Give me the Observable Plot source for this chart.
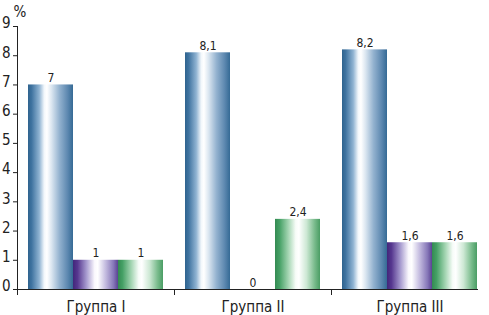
<!DOCTYPE html>
<html><head><meta charset="utf-8">
<script src="https://cdn.jsdelivr.net/npm/d3@7"></script>
<script src="https://cdn.jsdelivr.net/npm/@observablehq/plot@0.6"></script>
<style>body{margin:0;background:#fff} #chart{width:489px;height:315px}</style>
</head><body><div id="chart"></div>
<script>
const groups = ["Группа I", "Группа II", "Группа III"];
const seriesNames = ["s1", "s2", "s3"];
const series1 = [7, 8.1, 8.2];
const series2 = [1, 0, 1.6];
const series3 = [1, 2.4, 1.6];
const yTicks = [0, 1, 2, 3, 4, 5, 6, 7, 8, 9];
const yUnit = "%";

const seriesValues = [series1, series2, series3];
const data = [];
groups.forEach((g, i) => seriesValues.forEach((arr, j) =>
  data.push({group: g, series: seriesNames[j], value: arr[i]})));

const fmt = v => String(v).replace(".", ",");
const font = "'Liberation Sans Narrow','DejaVu Sans Condensed','Roboto Condensed',sans-serif";

const plot = Plot.plot({
  width: 489, height: 315,
  marginLeft: 16, marginRight: 0, marginTop: 26, marginBottom: 26,
  style: {fontFamily: font, fontSize: "15px", color: "#222", background: "#fff", overflow: "visible"},
  fx: {domain: groups, padding: 0, label: null, axis: "bottom", tickSize: 0, tickPadding: 12},
  x: {domain: seriesNames, axis: null, paddingInner: 0, paddingOuter: 0.24},
  y: {domain: [0, 9], ticks: yTicks, tickSize: 4, tickPadding: 3, line: true, label: null, tickFormat: d => d},
  marks: [
    ...seriesNames.map(s => Plot.barY(data.filter(d => d.series === s), {
      fx: "group", x: "series", y: "value", fill: `url(#grad-${s})`
    })),
    Plot.text(data, {fx: "group", x: "series", y: "value", text: d => fmt(d.value),
      lineAnchor: "bottom", dy: -3, fontSize: 12, fill: "#222"}),
    Plot.ruleY(groups.slice(0, 2).map(g => ({group: g})), {fx: "group", y: () => 0, stroke: "#222"}),
    Plot.ruleY(groups.slice(2).map(g => ({group: g})), {fx: "group", y: () => 0, stroke: "#222", insetRight: 10}),
    Plot.frame({anchor: "left", insetTop: 263, insetBottom: -5, stroke: "#222"}),
    Plot.text([yUnit], {fx: () => groups[0], frameAnchor: "top-left", text: d => d, dx: -4, dy: -20,
      textAnchor: "start", fontSize: 15, fill: "#222"})
  ]
});

const svg = d3.select(plot);
const defs = svg.insert("defs", ":first-child");
const grads = {
  "s1": [[0, "#2f638e"], [8, "#3f73a0"], [25, "#8fb3d2"], [36, "#f2f7fb"], [42, "#ffffff"], [52, "#dce7f1"], [70, "#93b2cf"], [88, "#5d88b0"], [100, "#356a95"]],
  "s2": [[0, "#42267a"], [10, "#56378f"], [30, "#a79bcf"], [48, "#faf8fd"], [55, "#ffffff"], [72, "#c5bde0"], [90, "#8677b8"], [100, "#5a4393"]],
  "s3": [[0, "#338a52"], [10, "#45a065"], [30, "#a6d6b4"], [46, "#f7fcf8"], [53, "#ffffff"], [70, "#cde8d4"], [88, "#79bb8c"], [100, "#4a9d64"]]
};
for (const [id, stops] of Object.entries(grads)) {
  const lg = defs.append("linearGradient").attr("id", `grad-${id}`).attr("x1", "0").attr("x2", "1").attr("y1", "0").attr("y2", "0");
  stops.forEach(([o, c]) => lg.append("stop").attr("offset", o + "%").attr("stop-color", c));
}
svg.selectAll('[aria-label^="y-axis"] text').attr("transform", function () {
  const t = d3.select(this).attr("transform");
  return (t ? t + " " : "") + "translate(0,-3)";
});
document.getElementById("chart").appendChild(plot);
</script>
</body></html>
